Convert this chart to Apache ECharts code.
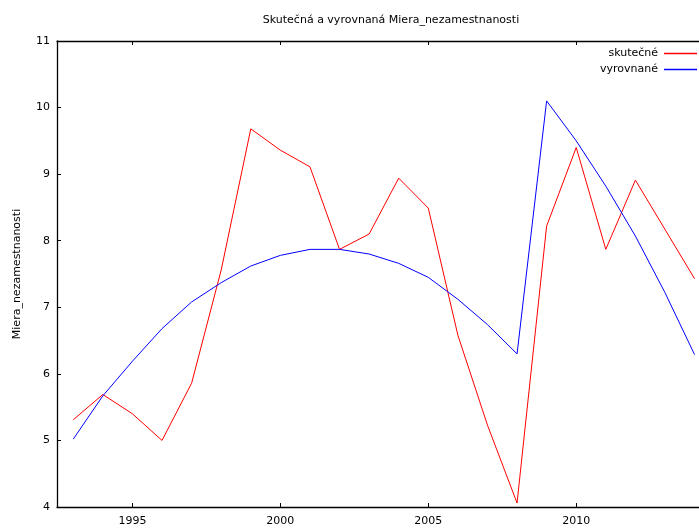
<!DOCTYPE html>
<html>
<head>
<meta charset="utf-8">
<script src="https://cdn.jsdelivr.net/npm/echarts@6/dist/echarts.min.js"></script>
<style>
  html, body { margin: 0; padding: 0; background: #fff; }
  #chart { width: 699px; height: 529px; }
</style>
</head>
<body>
<div id="chart"></div>
<script>
// Unemployment rate: actual vs. fitted trend
const years = [1993, 1994, 1995, 1996, 1997, 1998, 1999, 2000, 2001, 2002, 2003,
               2004, 2005, 2006, 2007, 2008, 2009, 2010, 2011, 2012, 2013, 2014];
const actual = [5.31, 5.69, 5.40, 5.00, 5.86, 7.56, 9.68, 9.36, 9.11, 7.87, 8.10,
                8.94, 8.49, 6.58, 5.23, 4.06, 8.22, 9.40, 7.87, 8.91, 8.17, 7.43];
const fitted = [5.02, 5.67, 6.19, 6.68, 7.08, 7.37, 7.62, 7.78, 7.87, 7.87, 7.80,
                7.66, 7.45, 7.12, 6.74, 6.30, 10.10, 9.50, 8.82, 8.07, 7.22, 6.29];
const xTicks = [1995, 2000, 2005, 2010];

const pairs = vals => years.map((y, i) => [y, vals[i]]);
const font = 'DejaVu Sans';
const axisColor = '#000';

const chart = echarts.init(document.getElementById('chart'));
chart.setOption({
  animation: false,
  backgroundColor: '#fff',
  textStyle: { fontFamily: font },
  title: {
    text: 'Skutečná a vyrovnaná Miera_nezamestnanosti',
    left: 386, top: 10, textAlign: 'center',
    textStyle: { fontFamily: font, fontSize: 11, fontWeight: 'normal', color: '#000' }
  },
  legend: {
    orient: 'vertical', align: 'right', right: 2, top: 48, padding: 0,
    itemWidth: 33, itemHeight: 1.5, itemGap: 5, icon: 'rect',
    textStyle: { fontFamily: font, fontSize: 11, color: '#000', padding: [0, 1, 0, 0] },
    data: ['skutečné', 'vyrovnané']
  },
  grid: { left: 57, right: 0, top: 41, bottom: 22 },
  xAxis: [{
    type: 'value', min: 1992.45, max: 2014.15, position: 'bottom',
    splitLine: { show: false },
    axisLine: { lineStyle: { color: axisColor, width: 1.3 } },
    axisTick: { inside: true, length: 4, customValues: xTicks, lineStyle: { color: axisColor } },
    axisLabel: { customValues: xTicks, margin: 9, fontFamily: font, fontSize: 11, color: '#000',
                 formatter: v => String(v) }
  }, {
    type: 'value', min: 1992.45, max: 2014.15, position: 'top',
    splitLine: { show: false },
    axisLine: { lineStyle: { color: axisColor, width: 1.3 } },
    axisTick: { inside: true, length: 4, customValues: xTicks, lineStyle: { color: axisColor } },
    axisLabel: { show: false }
  }],
  yAxis: {
    type: 'value', min: 4, max: 11, interval: 1,
    name: 'Miera_nezamestnanosti', nameLocation: 'middle', nameGap: 34, nameRotate: 90,
    nameTextStyle: { fontFamily: font, fontSize: 11, color: '#000' },
    splitLine: { show: false },
    axisLine: { show: true, lineStyle: { color: axisColor, width: 1.3 } },
    axisTick: { show: true, inside: true, length: 4, lineStyle: { color: axisColor } },
    axisLabel: { margin: 7, fontFamily: font, fontSize: 11, color: '#000' }
  },
  series: [{
    name: 'skutečné', type: 'line', data: pairs(actual),
    showSymbol: false, color: '#ff0000', lineStyle: { width: 1, color: '#ff0000' }
  }, {
    name: 'vyrovnané', type: 'line', data: pairs(fitted),
    showSymbol: false, color: '#0000ff', lineStyle: { width: 1, color: '#0000ff' }
  }]
});
</script>
</body>
</html>
